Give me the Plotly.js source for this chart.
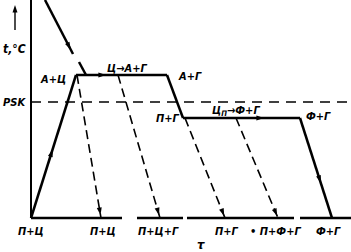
<!DOCTYPE html>
<html><head><meta charset="utf-8">
<script src="https://cdn.plot.ly/plotly-3.0.1.min.js"></script>
<style>html,body{margin:0;padding:0;background:#fff;}#c{width:351px;height:252px;}</style>
</head><body><div id="c"></div>
<script>
// Schematic coordinates: tau (time, x) and t (temperature, y), arbitrary units
const axisTau = [31, 122, 137, 183, 187, 294, 300, 351];   // bottom axis segment ends
const tBase = 34;
const tTop = 252;
const tPSK = 150;
const tHigh = 177;   // first transformation plateau
const tLow = 134;    // second plateau (below PSK)

const coolTopTau = [45, 73];   const coolTopT = [252, 198];
const coolTop2Tau = [79, 86];  const coolTop2T = [190, 177];
const heatTau = [31, 76];      const heatT = [34, 177];
const plateau1Tau = [76, 167]; const plateau1T = [177, 177];
const dropAGTau = [167, 183];  const dropAGT = [177, 134];
const plateau2Tau = [183, 300];const plateau2T = [134, 134];
const finalTau = [300, 332];   const finalT = [134, 34];
const dashStartsTau = [77, 118, 185, 236];
const dashStartsT = [177, 177, 134, 134];
const dashEndsTau = [101, 160, 225, 278];

const bottomLabels = ['П+Ц', 'П+Ц', 'П+Ц+Г', 'П+Г', '• П+Ф+Г', 'Ф+Г'];
const bottomLabelTau = [31, 103, 158, 227, 275, 328];

const F = 'DejaVu Sans Condensed, DejaVu Sans, sans-serif';
const traces = [];
function seg(x, y, w, dash) {
  traces.push({x: x, y: y, mode: 'lines', type: 'scatter', hoverinfo: 'skip',
    line: {color: '#000', width: w, dash: dash || 'solid'}});
}
// axes
seg([31, 31], [tBase, tTop], 2);
for (let i = 0; i < axisTau.length; i += 2) seg([axisTau[i], axisTau[i+1]], [tBase, tBase], 2.5);
// PSK line
seg([31, 351], [tPSK, tPSK], 1.6, '10px,7px');
// curves
seg(coolTopTau, coolTopT, 2.5);
seg(coolTop2Tau, coolTop2T, 2.5);
seg(heatTau, heatT, 2.5);
seg(plateau1Tau, plateau1T, 2.5);
seg(dropAGTau, dropAGT, 2.5);
seg(plateau2Tau, plateau2T, 2.5);
seg(finalTau, finalT, 2.5);
for (let i = 0; i < dashStartsTau.length; i++) {
  seg([dashStartsTau[i], dashEndsTau[i]], [dashStartsT[i], tBase], 1.6, '9px,5px');
}
// y-axis arrow stem
seg([15, 15], [222, 244], 1.4);

// arrowheads as rotated markers
const ax = [], ay = [], ang = [];
function arrow(x0, y0, x1, y1) {
  ax.push(x1); ay.push(y1);
  ang.push(Math.atan2(x1 - x0, y1 - y0) * 180 / Math.PI);
}
function lerp(a, b, f) { return a + (b - a) * f; }
arrow(coolTopTau[0], coolTopT[0], lerp(coolTopTau[0], coolTopTau[1], 0.92), lerp(coolTopT[0], coolTopT[1], 0.92));
arrow(heatTau[0], heatT[0], lerp(heatTau[0], heatTau[1], 0.48), lerp(heatT[0], heatT[1], 0.48));
arrow(76, tHigh, 106, tHigh);
arrow(183, tLow, 264, tLow);
arrow(finalTau[0], finalT[0], lerp(finalTau[0], finalTau[1], 0.65), lerp(finalT[0], finalT[1], 0.65));
for (let i = 0; i < dashStartsTau.length; i++) {
  arrow(dashStartsTau[i], dashStartsT[i], lerp(dashStartsTau[i], dashEndsTau[i], 0.98), lerp(dashStartsT[i], tBase, 0.98));
}
arrow(15, 222, 15, 247);
traces.push({x: ax, y: ay, mode: 'markers', type: 'scatter', hoverinfo: 'skip',
  marker: {symbol: 'arrow', size: 8, angle: ang, color: '#000', line: {width: 0}}});

const ann = [];
function lab(x, y, t, size) {
  ann.push({x: x, y: y, xref: 'x', yref: 'y', text: '<i><b>' + t + '</b></i>', showarrow: false,
    font: {family: F, size: size || 11, color: '#000'}});
}
lab(14, 203, 't,°C', 12);
lab(14, 150, 'PSK', 11);
lab(53, 173, 'А+Ц');
lab(127, 184, 'Ц→А+Г');
lab(190, 176, 'А+Г');
lab(168, 134, 'П+Г');
lab(236, 141, 'Ц<sub>П</sub>→Ф+Г');
lab(318, 136, 'Ф+Г');
for (let i = 0; i < bottomLabels.length; i++) lab(bottomLabelTau[i], 21, bottomLabels[i]);
lab(201, 8, 'τ', 13);

Plotly.newPlot('c', traces, {
  width: 351, height: 252, margin: {l: 0, r: 0, t: 0, b: 0},
  paper_bgcolor: '#fff', plot_bgcolor: '#fff', showlegend: false,
  xaxis: {range: [0, 351], visible: false, fixedrange: true},
  yaxis: {range: [0, 252], visible: false, fixedrange: true},
  annotations: ann
}, {staticPlot: true});
</script></body></html>
